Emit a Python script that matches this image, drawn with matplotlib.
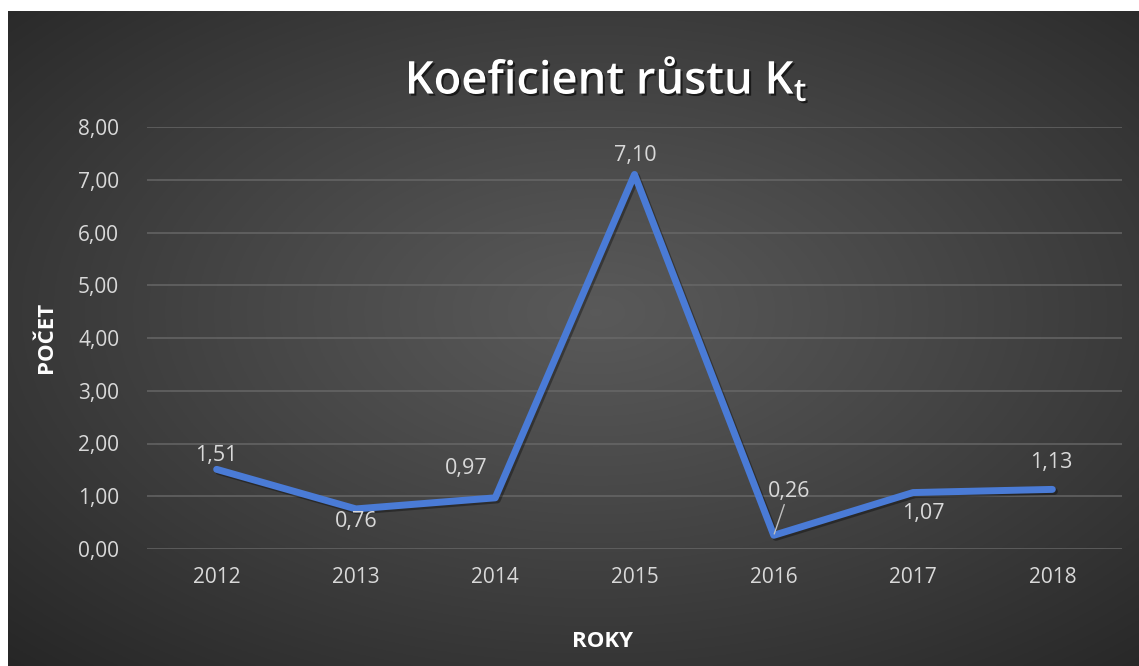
import numpy as np
import matplotlib
matplotlib.use("Agg")
import matplotlib.pyplot as plt
import matplotlib.patheffects as pe
from matplotlib.ticker import FuncFormatter

years = ["2012", "2013", "2014", "2015", "2016", "2017", "2018"]
values = [1.51, 0.76, 0.97, 7.10, 0.26, 1.07, 1.13]
label_offsets = [(0, 14), (0, -13), (-29, 29), (1, 19), (15, 44), (10, -21), (-1, 27)]
y_ticks = [0, 1, 2, 3, 4, 5, 6, 7, 8]

FONT = "Open Sans"
plt.rcParams["font.family"] = [FONT, "DejaVu Sans"]
plt.rcParams["mathtext.fontset"] = "custom"
plt.rcParams["mathtext.rm"] = FONT + ":semibold"
plt.rcParams["mathtext.it"] = FONT + ":semibold"
plt.rcParams["mathtext.bf"] = FONT + ":semibold"

W, H = 1139, 666
fig = plt.figure(figsize=(W / 100, H / 100), dpi=100, facecolor="white")

# background with radial gradient
bg = fig.add_axes([8 / W, 0, 1 - 8 / W, 655 / H])
bg.set_axis_off()
nx, ny = 600, 350
xx, yy = np.meshgrid(np.linspace(0, 1, nx), np.linspace(0, 1, ny))
cx, cy = 0.52, 0.46
r = np.sqrt(((xx - cx) / 0.75) ** 2 + ((yy - cy) / 0.75) ** 2)
r = np.clip(r, 0, 1)
inner, outer = 0.35, 0.15
val = inner + (outer - inner) * r ** 1.1
img = np.dstack([val, val, val])
bg.imshow(img, extent=[0, 1, 0, 1], aspect="auto", origin="upper")
bg.set_xlim(0, 1)
bg.set_ylim(0, 1)

ax = fig.add_axes([147 / W, (H - 549) / H, 975 / W, 422 / H])
ax.set_facecolor("none")
x = np.arange(len(years))
line_color = "#4A7BD6"
ax.plot(x, values, color=line_color, lw=5.0, solid_joinstyle="round",
        solid_capstyle="round", zorder=3,
        path_effects=[pe.SimpleLineShadow(offset=(1.5, -1.5), shadow_color="black", alpha=0.35),
                      pe.Normal()])
ax.set_xlim(-0.5, len(years) - 0.5)
ax.set_ylim(0, 8)
ax.set_yticks(y_ticks)
ax.yaxis.set_major_formatter(FuncFormatter(lambda v, p: f"{v:.2f}".replace(".", ",")))
ax.set_xticks(x)
ax.set_xticklabels(years)
ax.grid(axis="y", color="#6a6a6a", lw=1.1, alpha=0.9)
ax.set_axisbelow(True)
for s in ax.spines.values():
    s.set_visible(False)
ax.tick_params(length=0, labelsize=15, colors="#d9d9d9")
ax.tick_params(axis="y", pad=20)
ax.tick_params(axis="x", pad=13)

for i, (v, off) in enumerate(zip(values, label_offsets)):
    txt = f"{v:.2f}".replace(".", ",")
    kw = {}
    if i == 4:
        kw["arrowprops"] = dict(arrowstyle="-", color="#bfbfbf", lw=1.0, shrinkA=0, shrinkB=1)
    ax.annotate(txt, (x[i], v), xytext=off, textcoords="offset pixels",
                ha="center", va="center", fontsize=15.5, color="#d9d9d9", zorder=5, **kw)

ax.set_ylabel("POČET", fontsize=16, fontweight="bold", color="white")
ax.yaxis.set_label_coords((57 - 147) / 975, (549 - 337) / 422)
ax.set_xlabel("ROKY", fontsize=16, fontweight="bold", color="white")
ax.xaxis.set_label_coords((602 - 147) / 975, (549 - 631) / 422)

fig.text(606 / W, 1 - 80 / H, r"Koeficient růstu K$_\mathregular{t}$", ha="center", va="center",
         fontsize=32.6, fontweight="semibold", color="white",
         path_effects=[pe.withSimplePatchShadow(offset=(1.5, -1.5), shadow_rgbFace="black", alpha=0.6)])

fig.savefig("out.png", dpi=100, facecolor="white")
